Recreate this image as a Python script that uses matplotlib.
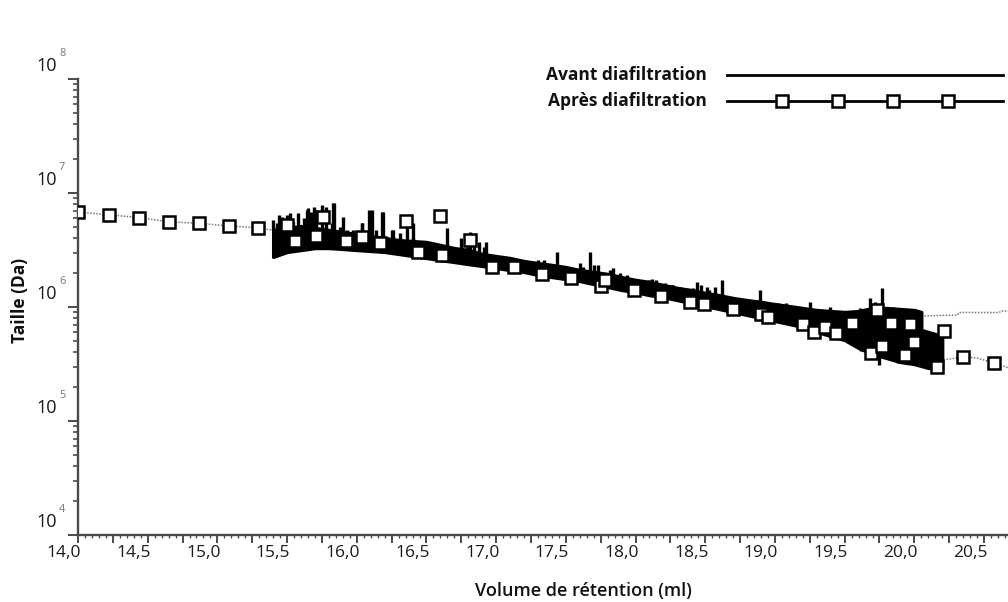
import numpy as np
import matplotlib
matplotlib.use('Agg')
import matplotlib.pyplot as plt
from matplotlib.ticker import MultipleLocator, LogLocator, NullFormatter
from matplotlib.transforms import ScaledTranslation, blended_transform_factory
from matplotlib.lines import Line2D

# ---------------- data ----------------
# "Avant diafiltration": dense noisy trace, drawn as its min/max envelope
av_x = [15.40, 15.50, 15.60, 15.70, 15.80, 15.90, 16.00, 16.10, 16.20, 16.30,
        16.40, 16.50, 16.60, 16.70, 16.80, 16.90, 17.00, 17.10, 17.20, 17.30,
        17.40, 17.50, 17.60, 17.70, 17.80, 17.90, 18.00, 18.10, 18.20, 18.30,
        18.40, 18.50, 18.60, 18.70, 18.80, 18.90, 19.00, 19.10, 19.20, 19.30,
        19.40, 19.50, 19.60, 19.70, 19.80, 19.90, 20.00, 20.05]
av_hi = [4.74e6, 4.93e6, 5.13e6, 4.93e6, 4.74e6, 4.55e6, 4.37e6, 4.20e6, 4.03e6, 3.87e6,
         3.79e6, 3.72e6, 3.50e6, 3.29e6, 3.16e6, 2.92e6, 2.80e6, 2.69e6, 2.53e6, 2.43e6,
         2.34e6, 2.24e6, 2.11e6, 2.03e6, 1.95e6, 1.83e6, 1.73e6, 1.66e6, 1.56e6, 1.47e6,
         1.41e6, 1.33e6, 1.27e6, 1.20e6, 1.15e6, 1.11e6, 1.06e6, 1.02e6, 9.80e5, 9.41e5,
         9.22e5, 9.04e5, 9.22e5, 9.80e5, 9.80e5, 9.60e5, 9.41e5, 9.04e5]
av_lo = [2.75e6, 3.04e6, 3.16e6, 3.29e6, 3.29e6, 3.23e6, 3.16e6, 3.10e6, 3.04e6, 2.92e6,
         2.80e6, 2.69e6, 2.58e6, 2.48e6, 2.38e6, 2.29e6, 2.20e6, 2.11e6, 2.03e6, 1.91e6,
         1.83e6, 1.76e6, 1.69e6, 1.59e6, 1.50e6, 1.41e6, 1.35e6, 1.27e6, 1.22e6, 1.15e6,
         1.08e6, 1.02e6, 9.60e5, 9.04e5, 8.51e5, 8.01e5, 7.54e5, 7.10e5, 6.68e5, 6.29e5,
         5.92e5, 5.57e5, 5.35e5, 5.13e5, 4.93e5, 4.74e5, 4.64e5, 5.13e5]
# spikes of the "Avant" trace (peak values)
av_spk_x = [15.40, 15.425, 15.44, 15.46, 15.50, 15.52, 15.545, 15.58, 15.62, 15.64,
            15.65, 15.675, 15.69, 15.71, 15.75, 15.78, 15.82, 15.83, 15.84, 15.88,
            15.90, 15.93, 15.975, 16.035, 16.04, 16.07, 16.09, 16.11, 16.14, 16.18,
            16.19, 16.21, 16.25, 16.26, 16.31, 16.36, 16.40, 16.405, 16.477, 16.525,
            16.56, 16.65, 16.69, 16.75, 16.79, 16.81, 16.84, 16.88, 16.91, 16.93,
            17.015, 17.08, 17.11, 17.17, 17.23, 17.27, 17.30, 17.34, 17.41, 17.44,
            17.51, 17.60, 17.625, 17.67, 17.70, 17.73, 17.82, 17.84, 17.89, 17.94,
            18.01, 18.055, 18.10, 18.12, 18.15, 18.21, 18.26, 18.27, 18.32, 18.41,
            18.44, 18.47, 18.51, 18.53, 18.56, 18.57, 18.62, 18.725, 18.82, 18.89,
            18.94, 19.02, 19.08, 19.18, 19.25, 19.32, 19.395, 19.47, 19.59, 19.61,
            19.68, 19.72, 19.77, 19.85, 19.945, 19.95, 20.02]
av_spk_y = [5.80e6, 5.41e6, 6.41e6, 6.19e6, 6.41e6, 6.68e6, 5.60e6, 6.63e6, 6.00e6, 7.09e6,
            7.34e6, 6.86e6, 7.54e6, 7.09e6, 7.85e6, 7.58e6, 5.41e6, 8.17e6, 8.12e6, 5.07e6,
            6.16e6, 4.74e6, 4.74e6, 5.41e6, 5.46e6, 4.43e6, 7.09e6, 7.09e6, 4.74e6, 6.86e6,
            6.81e6, 4.14e6, 4.73e6, 4.74e6, 4.43e6, 5.57e6, 5.46e6, 3.99e6, 3.50e6, 3.61e6,
            3.38e6, 4.93e6, 3.06e6, 4.03e6, 3.38e6, 4.55e6, 3.74e6, 3.72e6, 3.38e6, 3.72e6,
            2.76e6, 2.69e6, 2.58e6, 2.50e6, 2.50e6, 2.42e6, 2.58e6, 2.58e6, 2.18e6, 3.04e6,
            2.11e6, 2.43e6, 2.23e6, 3.04e6, 2.34e6, 2.34e6, 2.11e6, 2.20e6, 1.97e6, 1.91e6,
            1.73e6, 1.73e6, 1.73e6, 1.76e6, 1.73e6, 1.62e6, 1.56e6, 1.56e6, 1.51e6, 1.46e6,
            1.66e6, 1.56e6, 1.51e6, 1.41e6, 1.32e6, 1.50e6, 1.73e6, 1.15e6, 1.11e6, 1.41e6,
            1.08e6, 1.08e6, 1.08e6, 9.74e5, 1.11e6, 9.13e5, 1.00e6, 9.13e5, 9.41e5, 9.80e5,
            1.19e6, 1.11e6, 1.47e6, 1.00e6, 9.41e5, 9.04e5, 9.13e5]
# dotted continuation of "Avant"
av_tail_x = [20.05, 20.31, 20.32, 20.61, 20.62, 20.70]
av_tail_y = [8.34e5, 8.51e5, 8.95e5, 8.95e5, 9.22e5, 9.22e5]

# "Après diafiltration": dotted line + square markers
ap_left_x = [14.00, 14.22, 14.44, 14.65, 14.87, 15.08, 15.29, 15.40]
ap_left_y = [6.81e6, 6.45e6, 6.07e6, 5.60e6, 5.42e6, 5.13e6, 4.96e6, 4.70e6]
ap_tail_x = [20.21, 20.35, 20.45, 20.57, 20.70]
ap_tail_y = [3.43e5, 3.65e5, 3.57e5, 3.23e5, 2.86e5]
ap_band_x = [19.30, 19.40, 19.50, 19.60, 19.70, 19.80, 19.90, 20.00, 20.10, 20.20]
ap_band_hi = [9.04e5, 8.51e5, 8.01e5, 7.69e5, 7.39e5, 7.10e5, 6.82e5, 6.55e5, 6.04e5, 5.57e5]
ap_band_lo = [6.04e5, 5.57e5, 5.13e5, 4.37e5, 3.87e5, 3.57e5, 3.29e5, 3.16e5, 2.92e5, 2.92e5]
ap_spk_x = [19.62, 19.75, 19.88, 20.08, 20.13, 20.15]
ap_spk_y = [4.10e5, 3.10e5, 3.20e5, 5.57e5, 2.80e5, 4.93e5]
ap_mx = [14.00, 14.22, 14.44, 14.65, 14.87, 15.08, 15.29, 15.50, 15.56, 15.71,
         15.76, 15.92, 16.04, 16.17, 16.35, 16.44, 16.60, 16.61, 16.81, 16.97,
         17.13, 17.33, 17.54, 17.75, 17.78, 17.99, 18.18, 18.39, 18.49, 18.70,
         18.90, 18.95, 19.20, 19.28, 19.36, 19.44, 19.55, 19.69, 19.73, 19.77,
         19.83, 19.93, 19.97, 20.00, 20.16, 20.21, 20.35, 20.57]
ap_my = [6.81e6, 6.45e6, 6.07e6, 5.60e6, 5.42e6, 5.13e6, 4.96e6, 5.24e6, 3.82e6, 4.20e6,
         6.20e6, 3.82e6, 4.09e6, 3.66e6, 5.68e6, 3.05e6, 6.29e6, 2.86e6, 3.87e6, 2.26e6,
         2.23e6, 1.94e6, 1.79e6, 1.53e6, 1.73e6, 1.41e6, 1.26e6, 1.11e6, 1.06e6, 9.55e5,
         8.68e5, 8.23e5, 7.10e5, 6.07e5, 6.64e5, 5.88e5, 7.19e5, 3.97e5, 9.41e5, 4.55e5,
         7.19e5, 3.79e5, 7.10e5, 4.96e5, 2.96e5, 6.16e5, 3.62e5, 3.25e5]

x_ticks = [14.0, 14.5, 15.0, 15.5, 16.0, 16.5, 17.0, 17.5, 18.0, 18.5, 19.0, 19.5, 20.0, 20.5]
x_tick_labels = ['14,0', '14,5', '15,0', '15,5', '16,0', '16,5', '17,0', '17,5',
                 '18,0', '18,5', '19,0', '19,5', '20,0', '20,5']
y_exponents = [4, 5, 6, 7, 8]
legend_labels = ['Avant diafiltration', 'Après diafiltration']
x_title = 'Volume de rétention (ml)'
y_title = 'Taille (Da)'

# ---------------- figure ----------------
W, H, DPI = 1008, 602, 100
FONT = ['Open Sans', 'DejaVu Sans']
plt.rcParams['font.family'] = FONT
fig = plt.figure(figsize=(W / DPI, H / DPI), dpi=DPI)
ax = fig.add_axes([78 / W, (H - 535) / H, (W - 78) / W, (535 - 79) / H])
ax.set_yscale('log')
ax.set_xlim(14.0, 20.672)
ax.set_ylim(1e4, 1e8)

for s in ['top', 'right']:
    ax.spines[s].set_visible(False)
for s in ['left', 'bottom']:
    ax.spines[s].set_color('#4a4a4a')
    ax.spines[s].set_linewidth(1.7)

# x ticks: majors every 0.25, tiny ticks every 0.05
ax.xaxis.set_major_locator(MultipleLocator(0.25))
ax.xaxis.set_minor_locator(MultipleLocator(0.05))
ax.tick_params(axis='x', which='major', direction='out', length=6, width=1.4,
               color='#4a4a4a', labelbottom=False)
ax.tick_params(axis='x', which='minor', direction='out', length=2.5, width=1.0,
               color='#4a4a4a')
ax.yaxis.set_major_locator(LogLocator(base=10, numticks=10))
ax.yaxis.set_minor_locator(LogLocator(base=10, subs=range(2, 10), numticks=10))
ax.yaxis.set_minor_formatter(NullFormatter())
ax.tick_params(axis='y', which='major', direction='out', length=7, width=1.4,
               color='#4a4a4a', labelleft=False)
ax.tick_params(axis='y', which='minor', direction='out', length=3.5, width=1.2,
               color='#4a4a4a')

# x tick labels (shifted left of their ticks as in the reference)
tx = blended_transform_factory(ax.transData, ax.transAxes)
for v, lab in zip(x_ticks, x_tick_labels):
    ax.text(v, 0, lab, transform=tx + ScaledTranslation(-14 / DPI, -18 / DPI, fig.dpi_scale_trans),
            ha='center', va='center', fontsize=12.5, fontweight='medium', color='#1a1a1a',
            clip_on=False)

# y tick labels 10^k
ty = blended_transform_factory(ax.transAxes, ax.transData)
for k in y_exponents:
    ax.text(0, 10.0 ** k, '10', transform=ty + ScaledTranslation(-21 / DPI, 13 / DPI, fig.dpi_scale_trans),
            ha='right', va='center', fontsize=13, fontweight='medium', color='#1a1a1a',
            clip_on=False)
    ax.text(0, 10.0 ** k, str(k), transform=ty + ScaledTranslation(-19 / DPI, 26 / DPI, fig.dpi_scale_trans),
            ha='left', va='center', fontsize=8, color='#777777', clip_on=False)

# ---------------- data marks ----------------
dot = (0, (1, 1))
ax.plot(ap_left_x, ap_left_y, ls=dot, color='#777777', lw=1.1, zorder=2)
ax.plot(ap_tail_x, ap_tail_y, ls=dot, color='#777777', lw=1.1, zorder=2)
ax.plot(av_tail_x, av_tail_y, ls=dot, color='#777777', lw=1.1, zorder=2)

ax.fill_between(av_x, av_lo, av_hi, color='black', lw=2.4, zorder=3)
ax.fill_between(ap_band_x, ap_band_lo, ap_band_hi, color='black', lw=2.4, zorder=3)
av_base = np.interp(av_spk_x, av_x, av_hi)
ax.vlines(av_spk_x, av_base, av_spk_y, color='black', lw=2.4, zorder=3)
ap_base = np.interp(ap_spk_x, ap_band_x, ap_band_lo)
ap_top = np.interp(ap_spk_x, ap_band_x, ap_band_hi)
ax.vlines(ap_spk_x, np.minimum(ap_base, ap_spk_y), np.maximum(ap_top, ap_spk_y),
          color='black', lw=2.4, zorder=3)

ax.plot(ap_mx, ap_my, ls='none', marker='s', ms=8, mfc='white', mec='black', mew=1.8, zorder=5)

# ---------------- legend (drawn manually) ----------------
def fx(px):
    return px / W

def fy(py):
    return 1 - py / H

fig.text(fx(707), fy(75), legend_labels[0], ha='right', va='center', fontsize=12.5,
         fontweight='bold', color='#111111')
fig.text(fx(707), fy(101), legend_labels[1], ha='right', va='center', fontsize=12.5,
         fontweight='bold', color='#111111')
fig.add_artist(Line2D([fx(727), fx(1003)], [fy(75), fy(75)], color='black', lw=2.0,
                      transform=fig.transFigure))
fig.add_artist(Line2D([fx(727), fx(1003)], [fy(101), fy(101)], color='black', lw=2.0,
                      transform=fig.transFigure))
fig.add_artist(Line2D([fx(782), fx(838), fx(893), fx(948)], [fy(101)] * 4, ls='none',
                      marker='s', ms=8, mfc='white', mec='black', mew=1.8,
                      transform=fig.transFigure))

# axis titles
fig.text(fx(583), fy(591), x_title, ha='center', va='center', fontsize=13,
         fontweight='semibold', color='#111111')
fig.text(fx(20), fy(300), y_title, ha='center', va='center', rotation=90, fontsize=12.5,
         fontweight='bold', color='#111111')

fig.savefig('out.png', dpi=DPI)
